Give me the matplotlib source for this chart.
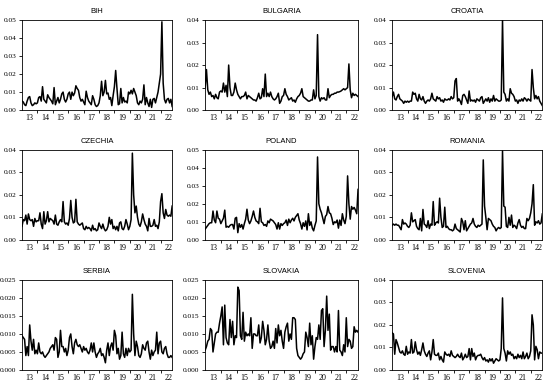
import numpy as np
import matplotlib
matplotlib.use("Agg")
import matplotlib.pyplot as plt
from matplotlib.ticker import FixedLocator, NullFormatter, FormatStrFormatter

# monthly values, Jan 2013 .. Oct 2022 (one row per year)
bih = [
    0.005, 0.0045, 0.003, 0.0025, 0.005, 0.007, 0.0075, 0.004, 0.0025, 0.003, 0.004, 0.0035,
    0.004, 0.007, 0.0075, 0.005, 0.013, 0.006, 0.005, 0.004, 0.0085, 0.007, 0.006, 0.005,
    0.0035, 0.0125, 0.003, 0.005, 0.007, 0.004, 0.006, 0.009, 0.01, 0.006, 0.0045, 0.006,
    0.009, 0.01, 0.006, 0.01, 0.008, 0.0095, 0.0135, 0.012, 0.011, 0.007, 0.005, 0.006,
    0.0045, 0.003, 0.0105, 0.007, 0.005, 0.004, 0.003, 0.008, 0.006, 0.003, 0.002, 0.0025,
    0.004, 0.008, 0.016, 0.008, 0.01, 0.0165, 0.009, 0.0095, 0.006, 0.007, 0.0025, 0.008,
    0.013, 0.022, 0.012, 0.003, 0.0035, 0.012, 0.004, 0.007, 0.0045, 0.005, 0.004, 0.01,
    0.009, 0.011, 0.009, 0.012, 0.01, 0.008, 0.004, 0.003, 0.005, 0.004, 0.006, 0.014,
    0.003, 0.007, 0.004, 0.002, 0.006, 0.0015, 0.006, 0.0065, 0.004, 0.007, 0.01, 0.015,
    0.02, 0.049, 0.015, 0.006, 0.004, 0.006, 0.0065, 0.004, 0.006, 0.002,
]
bulgaria = [
    0.010, 0.018, 0.009, 0.007, 0.008, 0.006, 0.0065, 0.005, 0.007, 0.0055, 0.005, 0.008,
    0.0085, 0.008, 0.012, 0.008, 0.011, 0.006, 0.020, 0.010, 0.0065, 0.0065, 0.008, 0.012,
    0.009, 0.007, 0.006, 0.005, 0.006, 0.006, 0.0065, 0.008, 0.005, 0.0065, 0.006, 0.0055,
    0.005, 0.0045, 0.0045, 0.004, 0.0055, 0.0075, 0.005, 0.0055, 0.0095, 0.006, 0.016, 0.006,
    0.0075, 0.006, 0.008, 0.006, 0.005, 0.0045, 0.005, 0.006, 0.0075, 0.003, 0.004, 0.006,
    0.0065, 0.0095, 0.007, 0.006, 0.0045, 0.005, 0.0055, 0.004, 0.0045, 0.0035, 0.005, 0.006,
    0.0065, 0.0075, 0.0095, 0.006, 0.0055, 0.005, 0.0045, 0.004, 0.004, 0.0045, 0.0045, 0.009,
    0.005, 0.0065, 0.0335, 0.006, 0.004, 0.0055, 0.005, 0.0055, 0.0045, 0.0045, 0.0095, 0.0055,
    0.0065, 0.007, 0.007, 0.0075, 0.0075, 0.008, 0.008, 0.0082, 0.0085, 0.009, 0.0095, 0.009,
    0.0095, 0.01, 0.0205, 0.009, 0.0055, 0.0075, 0.0065, 0.007, 0.0065, 0.006,
]
croatia = [
    0.006, 0.008, 0.005, 0.0045, 0.006, 0.007, 0.005, 0.0045, 0.004, 0.003, 0.004, 0.0035,
    0.004, 0.0035, 0.004, 0.004, 0.008, 0.007, 0.0075, 0.005, 0.004, 0.007, 0.005, 0.0045,
    0.006, 0.004, 0.003, 0.004, 0.0045, 0.004, 0.005, 0.0075, 0.005, 0.0045, 0.004, 0.006,
    0.005, 0.0055, 0.004, 0.0045, 0.0035, 0.005, 0.0045, 0.0045, 0.005, 0.0045, 0.006, 0.005,
    0.0055, 0.013, 0.014, 0.004, 0.005, 0.004, 0.0025, 0.0065, 0.007, 0.006, 0.0045, 0.003,
    0.0085, 0.004, 0.0045, 0.004, 0.0045, 0.0035, 0.005, 0.0045, 0.004, 0.0055, 0.006, 0.003,
    0.004, 0.005, 0.004, 0.0055, 0.0035, 0.005, 0.004, 0.0065, 0.004, 0.005, 0.0045, 0.004,
    0.004, 0.0045, 0.04, 0.008, 0.007, 0.004, 0.005, 0.004, 0.0095, 0.0075, 0.007, 0.006,
    0.004, 0.0045, 0.003, 0.0045, 0.004, 0.005, 0.004, 0.0055, 0.005, 0.004, 0.005, 0.0045,
    0.004, 0.018, 0.01, 0.005, 0.0065, 0.005, 0.006, 0.004, 0.003, 0.002,
]
czechia = [
    0.006, 0.009, 0.0085, 0.011, 0.007, 0.0115, 0.009, 0.0085, 0.009, 0.006, 0.0095, 0.008,
    0.0085, 0.0085, 0.012, 0.007, 0.005, 0.0125, 0.007, 0.0085, 0.0125, 0.008, 0.0095, 0.009,
    0.0085, 0.007, 0.011, 0.007, 0.0065, 0.008, 0.009, 0.008, 0.017, 0.008, 0.007, 0.0075,
    0.0065, 0.0095, 0.0175, 0.01, 0.0075, 0.008, 0.018, 0.008, 0.007, 0.0065, 0.007, 0.0075,
    0.005, 0.0045, 0.006, 0.005, 0.0055, 0.005, 0.004, 0.0065, 0.0045, 0.005, 0.004, 0.0045,
    0.0075, 0.006, 0.005, 0.007, 0.005, 0.004, 0.0045, 0.006, 0.01, 0.007, 0.009, 0.005,
    0.006, 0.0045, 0.006, 0.004, 0.0075, 0.008, 0.005, 0.0045, 0.006, 0.009, 0.007, 0.0045,
    0.006, 0.009, 0.0385, 0.02, 0.012, 0.015, 0.01, 0.007, 0.006, 0.008, 0.0115, 0.009,
    0.007, 0.006, 0.004, 0.0095, 0.006, 0.006, 0.0065, 0.009, 0.006, 0.0065, 0.005, 0.008,
    0.017, 0.0205, 0.012, 0.0095, 0.0135, 0.011, 0.0105, 0.011, 0.0105, 0.015,
]
poland = [
    0.006, 0.007, 0.008, 0.009, 0.0095, 0.0095, 0.016, 0.011, 0.0095, 0.016, 0.012, 0.0115,
    0.009, 0.0105, 0.012, 0.0165, 0.007, 0.0075, 0.007, 0.008, 0.0085, 0.0085, 0.006, 0.012,
    0.0125, 0.004, 0.009, 0.007, 0.0085, 0.006, 0.009, 0.0115, 0.017, 0.011, 0.009, 0.0105,
    0.013, 0.016, 0.0125, 0.0105, 0.01, 0.009, 0.0175, 0.01, 0.0095, 0.008, 0.0085, 0.0075,
    0.0105, 0.0095, 0.0115, 0.011, 0.0105, 0.0095, 0.0085, 0.006, 0.0095, 0.006, 0.009, 0.008,
    0.009, 0.0095, 0.011, 0.008, 0.0115, 0.0095, 0.011, 0.012, 0.0105, 0.0125, 0.0135, 0.0145,
    0.011, 0.009, 0.006, 0.0095, 0.0075, 0.0105, 0.0055, 0.0145, 0.008, 0.01, 0.0065, 0.005,
    0.008, 0.0105, 0.046, 0.02, 0.017, 0.015, 0.012, 0.009, 0.013, 0.014, 0.0185, 0.015,
    0.0145, 0.012, 0.0085, 0.01, 0.0095, 0.011, 0.0065, 0.011, 0.008, 0.0145, 0.011, 0.009,
    0.013, 0.0355, 0.02, 0.0115, 0.0185, 0.017, 0.018, 0.0165, 0.0145, 0.028,
]
romania = [
    0.0065, 0.007, 0.0065, 0.007, 0.0065, 0.0065, 0.0055, 0.0045, 0.009, 0.007, 0.0075, 0.007,
    0.006, 0.0055, 0.0065, 0.012, 0.008, 0.0085, 0.009, 0.006, 0.005, 0.0045, 0.0095, 0.004,
    0.0135, 0.007, 0.0065, 0.0055, 0.0085, 0.005, 0.007, 0.0065, 0.017, 0.0065, 0.0075, 0.008,
    0.0075, 0.0185, 0.01, 0.0055, 0.006, 0.0145, 0.0055, 0.006, 0.005, 0.0045, 0.0045, 0.004,
    0.0045, 0.007, 0.005, 0.0045, 0.004, 0.0035, 0.0095, 0.008, 0.0045, 0.0085, 0.004, 0.005,
    0.006, 0.007, 0.0075, 0.0095, 0.007, 0.006, 0.0055, 0.0065, 0.006, 0.0065, 0.007, 0.0355,
    0.015, 0.01, 0.0045, 0.0095, 0.009, 0.0085, 0.007, 0.006, 0.0055, 0.004, 0.005, 0.0055,
    0.005, 0.0055, 0.0395, 0.015, 0.0145, 0.006, 0.0055, 0.01, 0.0065, 0.011, 0.0055, 0.0065,
    0.006, 0.005, 0.0075, 0.009, 0.0065, 0.0055, 0.006, 0.005, 0.005, 0.0095, 0.0085, 0.0095,
    0.012, 0.016, 0.0245, 0.0065, 0.008, 0.0075, 0.0085, 0.007, 0.0075, 0.0115,
]
serbia = [
    0.0095, 0.009, 0.0085, 0.004, 0.0065, 0.004, 0.0125, 0.008, 0.0055, 0.0085, 0.0045, 0.0055,
    0.0045, 0.0075, 0.005, 0.0045, 0.005, 0.004, 0.0035, 0.004, 0.0045, 0.005, 0.006, 0.0065,
    0.007, 0.0055, 0.009, 0.0085, 0.0035, 0.005, 0.011, 0.0065, 0.0065, 0.005, 0.006, 0.004,
    0.0055, 0.009, 0.01, 0.0065, 0.0045, 0.0075, 0.0085, 0.007, 0.0065, 0.007, 0.006, 0.005,
    0.0065, 0.0055, 0.006, 0.005, 0.0045, 0.0055, 0.0075, 0.005, 0.0075, 0.005, 0.0035, 0.0045,
    0.005, 0.006, 0.004, 0.0045, 0.0035, 0.002, 0.0055, 0.0075, 0.004, 0.0065, 0.0075, 0.0055,
    0.011, 0.0095, 0.0045, 0.006, 0.003, 0.004, 0.0105, 0.0045, 0.0035, 0.006, 0.004, 0.006,
    0.005, 0.0055, 0.021, 0.01, 0.004, 0.008, 0.0065, 0.004, 0.0035, 0.0045, 0.007, 0.006,
    0.0055, 0.0075, 0.008, 0.005, 0.003, 0.0055, 0.004, 0.005, 0.0055, 0.0105, 0.0045, 0.0075,
    0.008, 0.005, 0.0045, 0.006, 0.0065, 0.0045, 0.0035, 0.0035, 0.004, 0.0035,
]
slovakia = [
    0.0055, 0.0065, 0.008, 0.0085, 0.0115, 0.011, 0.005, 0.0075, 0.01, 0.0105, 0.0105, 0.013,
    0.015, 0.0175, 0.007, 0.018, 0.009, 0.0075, 0.007, 0.014, 0.009, 0.0135, 0.007, 0.0095,
    0.009, 0.023, 0.022, 0.0095, 0.0085, 0.016, 0.008, 0.0105, 0.0095, 0.01, 0.0095, 0.0145,
    0.006, 0.01, 0.01, 0.0095, 0.0095, 0.0125, 0.0075, 0.009, 0.0135, 0.011, 0.007, 0.0085,
    0.0125, 0.008, 0.006, 0.0065, 0.008, 0.006, 0.0115, 0.0075, 0.0125, 0.0095, 0.011, 0.008,
    0.006, 0.0105, 0.012, 0.013, 0.008, 0.01, 0.0085, 0.0145, 0.0145, 0.014, 0.006, 0.004,
    0.0035, 0.003, 0.0035, 0.0045, 0.005, 0.0105, 0.009, 0.0065, 0.013, 0.007, 0.0095, 0.003,
    0.0065, 0.009, 0.0085, 0.0125, 0.0085, 0.0165, 0.017, 0.0065, 0.011, 0.0205, 0.011, 0.0155,
    0.0055, 0.0065, 0.0065, 0.005, 0.0065, 0.005, 0.0165, 0.0055, 0.005, 0.004, 0.007, 0.005,
    0.0145, 0.0065, 0.0085, 0.008, 0.006, 0.0065, 0.012, 0.0105, 0.011, 0.0105,
]
slovenia = [
    0.0165, 0.016, 0.007, 0.0135, 0.012, 0.01, 0.008, 0.0075, 0.0085, 0.007, 0.0065, 0.0105,
    0.007, 0.008, 0.0075, 0.0135, 0.0075, 0.008, 0.0125, 0.009, 0.007, 0.008, 0.0065, 0.009,
    0.012, 0.0085, 0.007, 0.006, 0.0075, 0.0085, 0.0045, 0.008, 0.0135, 0.007, 0.0065, 0.0065,
    0.0075, 0.0045, 0.006, 0.0045, 0.0035, 0.008, 0.007, 0.0065, 0.007, 0.006, 0.0085, 0.0065,
    0.006, 0.0055, 0.006, 0.007, 0.006, 0.0055, 0.0075, 0.0045, 0.0055, 0.007, 0.0055, 0.006,
    0.0095, 0.0045, 0.0095, 0.006, 0.0075, 0.0045, 0.006, 0.0065, 0.0065, 0.007, 0.0055, 0.0045,
    0.0055, 0.004, 0.0045, 0.0035, 0.005, 0.004, 0.005, 0.003, 0.004, 0.005, 0.0045, 0.004,
    0.0045, 0.0095, 0.032, 0.0095, 0.0075, 0.004, 0.0085, 0.007, 0.008, 0.0065, 0.007, 0.005,
    0.006, 0.005, 0.007, 0.0055, 0.0065, 0.005, 0.008, 0.005, 0.006, 0.0075, 0.005, 0.006,
    0.0085, 0.0245, 0.02, 0.0045, 0.0105, 0.009, 0.005, 0.008, 0.0075, 0.0075,
]

titles = ["BIH", "BULGARIA", "CROATIA", "CZECHIA", "POLAND", "ROMANIA",
          "SERBIA", "SLOVAKIA", "SLOVENIA"]
series = [bih, bulgaria, croatia, czechia, poland, romania, serbia, slovakia, slovenia]
y_tops = [0.05, 0.04, 0.04, 0.04, 0.05, 0.04, 0.025, 0.025, 0.04]
y_steps = [0.01, 0.01, 0.01, 0.01, 0.01, 0.01, 0.005, 0.005, 0.01]
year_labels = ["13", "14", "15", "16", "17", "18", "19", "20", "21", "22"]

# panel boxes in figure fraction (left, bottom, width, height)
col_left = [0.040, 0.373, 0.713]
col_width = [0.273, 0.278, 0.273]
row_bottom = [0.714, 0.377, 0.039]
row_height = 0.234

tick_font = "Liberation Serif"
title_font = "Liberation Sans"

fig = plt.figure(figsize=(5.5, 3.85), dpi=100)

for k, (name, vals) in enumerate(zip(titles, series)):
    r, c = divmod(k, 3)
    ax = fig.add_axes([col_left[c], row_bottom[r], col_width[c], row_height])
    x = 2013 + np.arange(len(vals)) / 12.0
    ax.plot(x, vals, color="black", lw=1.1)
    ax.set_xlim(x[0], x[-1])
    ax.set_ylim(0, y_tops[k])

    # year boundaries carry the tick marks, labels sit mid-year
    ax.xaxis.set_major_locator(FixedLocator(np.arange(2014, 2023)))
    ax.xaxis.set_major_formatter(NullFormatter())
    ax.xaxis.set_minor_locator(FixedLocator(np.arange(2013.5, 2023)))
    ax.set_xticklabels(year_labels, minor=True)
    ax.tick_params(axis="x", which="major", direction="out", length=2.5, width=0.6)
    ax.tick_params(axis="x", which="minor", length=0, pad=3, labelsize=5.8)

    ax.set_yticks(np.arange(0, y_tops[k] + 1e-9, y_steps[k]))
    fmt = "%.3f" if y_steps[k] < 0.01 else "%.2f"
    ax.yaxis.set_major_formatter(FormatStrFormatter(fmt))
    ax.tick_params(axis="y", direction="out", length=2.5, width=0.6, pad=1.5, labelsize=5.3)

    for lab in ax.get_xticklabels(minor=True) + ax.get_yticklabels():
        lab.set_fontfamily(tick_font)
    for sp in ax.spines.values():
        sp.set_linewidth(0.6)

    ax.set_title(name, fontsize=5.5, fontfamily=title_font, pad=5)

fig.savefig("out.png", dpi=100)
